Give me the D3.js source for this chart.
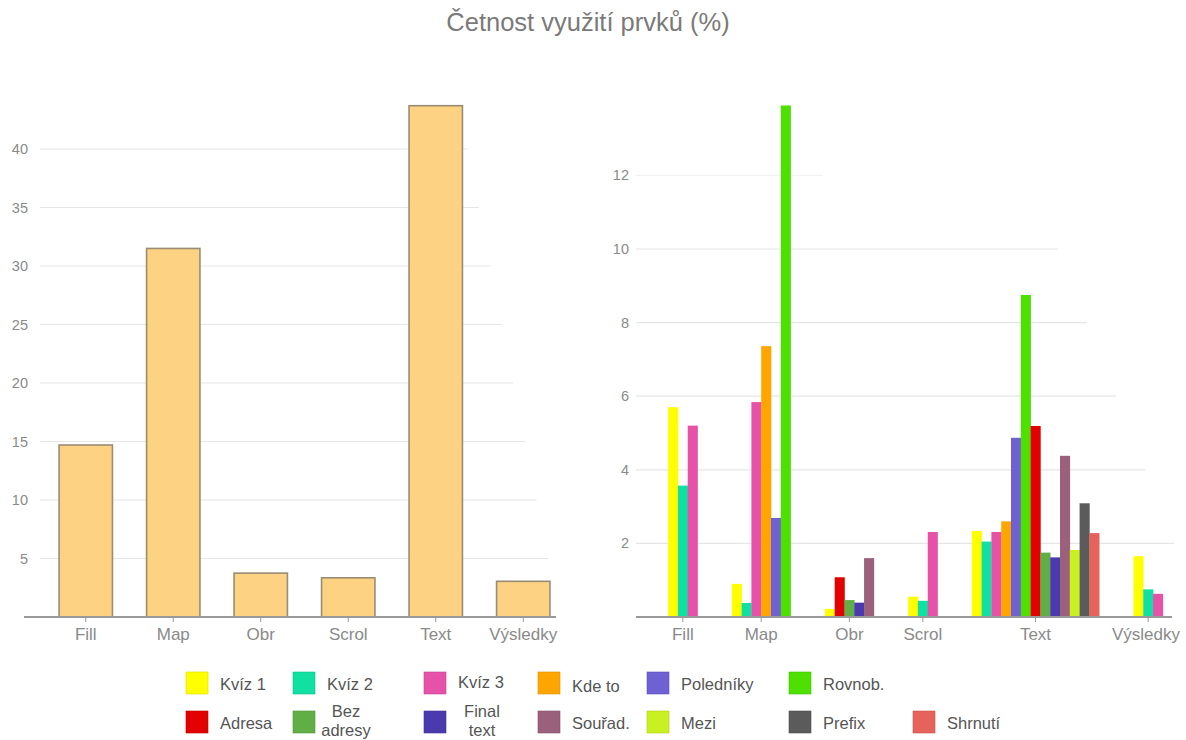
<!DOCTYPE html>
<html>
<head>
<meta charset="utf-8">
<script src="https://cdn.jsdelivr.net/npm/d3@7"></script>
<style>
	body { margin: 0; background: #fff; }
	svg { font-family: "Liberation Sans", Arial, sans-serif; }
	.grid line { stroke: #e6e6e6; stroke-width: 1.2; }
	.tick-label { fill: #8a8a8a; font-size: 14.5px; }
	.cat-label { fill: #8a8a8a; font-size: 17px; }
	.legend text { fill: #555; font-size: 16.5px; }
</style>
</head>
<body>
<svg id="chart" width="1186" height="740"></svg>
<script>
const title = "Četnost využití prvků (%)";
const categories = ["Fill", "Map", "Obr", "Scrol", "Text", "Výsledky"];

// left chart - totals
const totals = [14.7, 31.5, 3.75, 3.35, 43.7, 3.05];
const leftTicks = [5, 10, 15, 20, 25, 30, 35, 40];

// right chart - per item, one value for each category (0 = not used)
const seriesNames = ["Kvíz 1", "Kvíz 2", "Kvíz 3", "Kde to", "Poledníky", "Rovnob.",
	"Adresa", "Bez adresy", "Final text", "Souřad.", "Mezi", "Prefix", "Shrnutí"];
const kviz1     = [5.7, 0.9, 0.22, 0.55, 2.34, 1.65];
const kviz2     = [3.57, 0.38, 0, 0.44, 2.05, 0.75];
const kviz3     = [5.2, 5.84, 0, 2.31, 2.31, 0.63];
const kdeTo     = [0, 7.36, 0, 0, 2.6, 0];
const poledniky = [0, 2.69, 0, 0, 4.87, 0];
const rovnob    = [0, 13.9, 0, 0, 8.75, 0];
const adresa    = [0, 0, 1.08, 0, 5.19, 0];
const bezAdresy = [0, 0, 0.46, 0, 1.75, 0];
const finalText = [0, 0, 0.39, 0, 1.62, 0];
const sourad    = [0, 0, 1.6, 0, 4.38, 0];
const mezi      = [0, 0, 0, 0, 1.82, 0];
const prefix    = [0, 0, 0, 0, 3.09, 0];
const shrnuti   = [0, 0, 0, 0, 2.28, 0];
const rightTicks = [2, 4, 6, 8, 10, 12];

const seriesValues = [kviz1, kviz2, kviz3, kdeTo, poledniky, rovnob,
	adresa, bezAdresy, finalText, sourad, mezi, prefix, shrnuti];
const seriesColors = ["#ffff00", "#10e0a2", "#e552a8", "#ffa500", "#6f60d3", "#4ee000",
	"#e20000", "#5fae46", "#4a3aae", "#9a607c", "#c9f020", "#5b5b5b", "#e5635a"];

const svg = d3.select("#chart");

svg.append("text")
	.attr("x", 588)
	.attr("y", 31)
	.attr("text-anchor", "middle")
	.attr("fill", "#7a7a7a")
	.attr("font-size", 25.5)
	.text(title);

// ---------- left chart ----------
const baseY = 617;
const yL = d3.scaleLinear().domain([0, 40]).range([baseY, 149]);
const xL = d3.scaleBand().domain(categories).range([42, 567]).paddingInner(0.39).paddingOuter(0.195);

// gridlines get shorter going up (as in the original)
const gl = svg.append("g").attr("class", "grid");
gl.selectAll("line").data(leftTicks).join("line")
	.attr("x1", 40)
	.attr("x2", d => 548 - (d - 5) * 2.3)
	.attr("y1", d => yL(d))
	.attr("y2", d => yL(d));

svg.append("g").selectAll("text").data(leftTicks).join("text")
	.attr("class", "tick-label")
	.attr("x", 28)
	.attr("y", d => yL(d) + 5)
	.attr("text-anchor", "end")
	.text(d => d);

svg.append("g").selectAll("rect").data(totals).join("rect")
	.attr("x", (d, i) => xL(categories[i]))
	.attr("y", d => yL(d))
	.attr("width", xL.bandwidth())
	.attr("height", d => baseY - yL(d))
	.attr("fill", "#fdd282")
	.attr("stroke", "#998c73")
	.attr("stroke-width", 1.6);

const axL = svg.append("g").attr("transform", `translate(0,${baseY})`)
	.call(d3.axisBottom(xL).tickSize(5).tickSizeOuter(0));
axL.select(".domain").attr("d", "M24,0H556").attr("stroke", "#999").attr("stroke-width", 2);
axL.selectAll(".tick line").attr("stroke", "#999");
axL.selectAll(".tick text").attr("class", "cat-label").attr("dy", null).attr("y", 23).attr("font-family", null).attr("font-size", null);
axL.attr("font-family", null).attr("font-size", null);

// ---------- right chart ----------
const yR = d3.scaleLinear().domain([0, 12]).range([baseY, 175.4]);
const pad = 3.5;

// every category only holds the items it uses, groups are as wide as their bar count
const groups = categories.map((c, ci) => ({
	cat: c,
	bars: seriesValues.map((vals, si) => ({ si: si, v: vals[ci] })).filter(b => b.v > 0)
}));
let acc = 0;
groups.forEach(g => {
	g.start = acc + pad / 2;
	g.mid = g.start + g.bars.length / 2;
	acc += g.bars.length + pad;
});
const xR = d3.scaleLinear().domain([0, acc]).range([651, 1180]);
const unit = xR(1) - xR(0);

const gr = svg.append("g").attr("class", "grid");
gr.selectAll("line").data(rightTicks).join("line")
	.attr("x1", 636)
	.attr("x2", d => d == 12 ? 823 : 1174 - (d - 2) * 29 / 2)
	.attr("y1", d => yR(d))
	.attr("y2", d => yR(d))
	.attr("stroke-opacity", d => d == 12 ? 0.5 : 1);

svg.append("g").selectAll("text").data(rightTicks).join("text")
	.attr("class", "tick-label")
	.attr("x", 629)
	.attr("y", d => yR(d) + 5)
	.attr("text-anchor", "end")
	.text(d => d);

const grp = svg.append("g").selectAll("g").data(groups).join("g");
grp.selectAll("rect").data(g => g.bars.map((b, k) => ({ ...b, u: g.start + k }))).join("rect")
	.attr("x", d => xR(d.u))
	.attr("y", d => yR(d.v))
	.attr("width", unit + 0.3)
	.attr("height", d => baseY - yR(d.v))
	.attr("fill", d => seriesColors[d.si]);

const axR = svg.append("g").attr("transform", `translate(0,${baseY})`);
axR.append("line").attr("x1", 636).attr("x2", 1172).attr("stroke", "#999").attr("stroke-width", 2);
axR.selectAll("line.t").data(groups).join("line")
	.attr("class", "t")
	.attr("x1", d => xR(d.mid)).attr("x2", d => xR(d.mid))
	.attr("y2", 5).attr("stroke", "#999");
axR.selectAll("text").data(groups).join("text")
	.attr("class", "cat-label")
	.attr("x", d => Math.min(xR(d.mid), 1146))
	.attr("y", 23)
	.attr("text-anchor", "middle")
	.text(d => d.cat);

// ---------- legend ----------
const legendCols = [186, 293, 424, 538, 647, 789, 913];
const legendRows = [672, 711];
const lg = svg.append("g").attr("class", "legend");
const items = seriesNames.map((n, i) => ({
	name: n, color: seriesColors[i],
	x: legendCols[i < 6 ? i : i - 6],
	y: legendRows[i < 6 ? 0 : 1]
}));
const li = lg.selectAll("g").data(items).join("g")
	.attr("transform", d => `translate(${d.x},${d.y})`);
li.append("rect")
	.attr("width", 22).attr("height", 22)
	.attr("fill", d => d.color)
	.attr("stroke", d => d3.color(d.color).darker(0.4))
	.attr("stroke-width", 0.6);
li.each(function(d) {
	const g = d3.select(this);
	const words = d.name.split(" ");
	if (d.name == "Bez adresy" || d.name == "Final text") {
		const t = g.append("text").attr("text-anchor", "middle");
		t.append("tspan").attr("x", d.name == "Bez adresy" ? 53 : 58).attr("y", 6).text(words[0]);
		t.append("tspan").attr("x", d.name == "Bez adresy" ? 53 : 58).attr("y", 25).text(words[1]);
	} else {
		g.append("text").attr("x", 34).attr("y", d.name == "Kvíz 3" ? 16 : d.name == "Kde to" ? 20 : 18).text(d.name);
	}
});
</script>
</body>
</html>
